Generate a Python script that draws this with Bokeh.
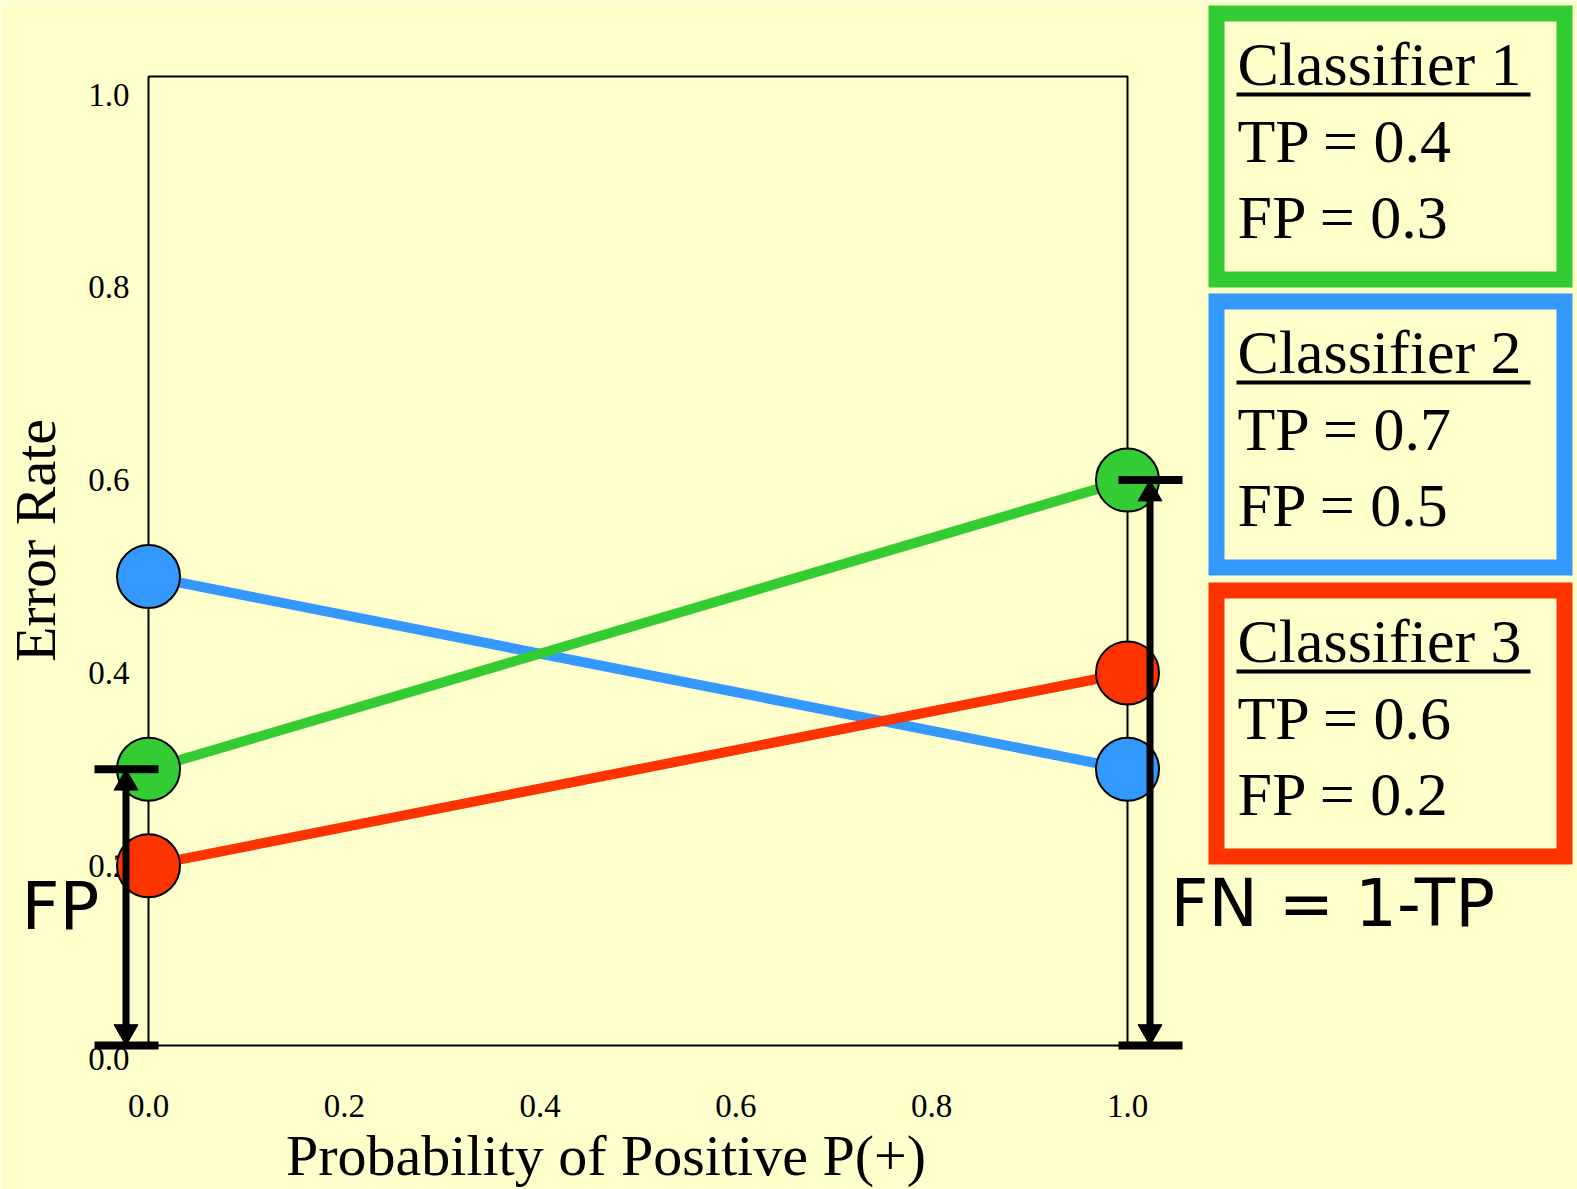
import math

from bokeh.plotting import figure
from bokeh.models import Range1d, FixedTicker, PrintfTickFormatter
from bokeh.core.properties import value
from bokeh.embed import file_html
from bokeh.resources import INLINE

# --- data -------------------------------------------------------------------
classifiers = ["Classifier 1", "Classifier 2", "Classifier 3"]
tp_rate = [0.4, 0.7, 0.6]
fp_rate = [0.3, 0.5, 0.2]
colors = ["#33CC33", "#3399FF", "#FF3300"]
p_positive = [0.0, 1.0]
x_ticks = [0.0, 0.2, 0.4, 0.6, 0.8, 1.0]
y_ticks = [0.0, 0.2, 0.4, 0.6, 0.8, 1.0]
x_title = "Probability of Positive P(+)"
y_title = "Error Rate"
fp_caption = "FP"
fn_caption = "FN = 1-TP"

# error rate at P(+)=0 is the FP rate, at P(+)=1 it is the FN rate = 1 - TP
err_at_0 = fp_rate
err_at_1 = [1 - t for t in tp_rate]

# --- layout (canvas pixels) ---------------------------------------------------
BG = "#FFFFCC"
W, H = 1577, 1189
LEFT, RIGHT, TOP, BOTTOM = 148, 1127, 76, 1045
X_SCALE = RIGHT - LEFT
Y_ZERO, Y_SCALE = 1058, 964
SERIF = "Liberation Serif"
SANS = "DejaVu Sans"
MID = 0.34  # distance from baseline to the middle of the em box, in em


def dx(px):
    return (px - LEFT) / X_SCALE


def dy(px):
    return (Y_ZERO - px) / Y_SCALE


y_floor = dy(BOTTOM)

p = figure(width=W, height=H,
           x_range=Range1d(0, 1), y_range=Range1d(y_floor, dy(TOP)),
           min_border_left=LEFT, min_border_right=W - RIGHT,
           min_border_top=TOP, min_border_bottom=H - BOTTOM,
           output_backend="svg", toolbar_location=None,
           background_fill_color=BG, border_fill_color=BG,
           outline_line_color="black", outline_line_width=2)
p.grid.visible = False

for ax in (p.xaxis[0], p.yaxis[0]):
    ax.axis_line_color = None
    ax.major_tick_line_color = None
    ax.minor_tick_line_color = None
    ax.major_tick_out = 0
    ax.major_label_text_font = SERIF
    ax.major_label_text_font_size = "33px"
    ax.major_label_text_color = "black"
    ax.formatter = PrintfTickFormatter(format="%.1f")

p.xaxis.ticker = FixedTicker(ticks=x_ticks)
p.yaxis.ticker = FixedTicker(ticks=y_ticks)
p.xaxis.major_label_standoff = 49
p.yaxis.major_label_standoff = 19


def put_text(x_px, base_px, text, font, size, align="left", level="overlay"):
    """Horizontal text whose baseline sits at canvas row base_px."""
    p.text(x=[dx(x_px)], y=[dy(base_px - MID * size)], text=[text],
           text_font=value(font), text_font_size=value(f"{size}px"),
           text_color="black", text_align=align, text_baseline="middle",
           level=level)


# the 0.0 tick sits just below the frame edge, so it is set by hand
p.text(x=[dx(LEFT - 19)], y=[y_ticks[0]], text=[f"{y_ticks[0]:.1f}"],
       text_font=value(SERIF), text_font_size=value("33px"), text_color="black",
       text_align="right", text_baseline="middle", level="guide")

# --- cost lines and end points ----------------------------------------------
for i in (1, 0, 2):
    p.line(p_positive, [err_at_0[i], err_at_1[i]], line_width=10,
           line_color=colors[i])

for i in range(3):
    p.scatter(p_positive, [err_at_0[i], err_at_1[i]], size=63,
              fill_color=colors[i], line_color="black", line_width=2,
              level="annotation")

# --- FP / FN measurement arrows ----------------------------------------------
HEAD = 24
HEAD_TIP = HEAD / 2 * math.sqrt(3) * 2 / 3  # centre-to-tip distance of a triangle marker


def measure(x_px, bar_x0_px, bar_x1_px, y_top):
    # end bars
    p.segment(x0=[dx(bar_x0_px)] * 2, y0=[y_top, y_floor],
              x1=[dx(bar_x1_px)] * 2, y1=[y_top, y_floor],
              line_width=8, line_color="black", level="overlay")
    # shaft, tucked inside both heads
    p.segment(x0=[dx(x_px)], y0=[y_floor + 10 / Y_SCALE],
              x1=[dx(x_px)], y1=[y_top - 10 / Y_SCALE],
              line_width=7, line_color="black", level="overlay")
    # heads
    p.scatter([dx(x_px)], [y_top - HEAD_TIP / Y_SCALE], marker="triangle",
              size=HEAD, fill_color="black", line_color="black", level="overlay")
    p.scatter([dx(x_px)], [y_floor + HEAD_TIP / Y_SCALE],
              marker="inverted_triangle", size=HEAD, fill_color="black",
              line_color="black", level="overlay")


measure(125.5, 94, 158, err_at_0[0])
measure(1149.5, 1118, 1182, err_at_1[0])

put_text(21, 928, fp_caption, SANS, 66)
put_text(1170, 925, fn_caption, SANS, 66)

# --- axis titles ---------------------------------------------------------------
put_text(605.5, 1175, x_title, SERIF, 58, align="center")
# rotated title: its baseline is the vertical line x = 55
p.text(x=[dx(55 - MID * 58)], y=[dy(540)], text=[y_title],
       text_font=value(SERIF), text_font_size=value("58px"), text_color="black",
       text_align="center", text_baseline="middle", angle=math.pi / 2,
       level="overlay")

# --- classifier boxes ----------------------------------------------------------
BOX_L, BOX_R, BOX_H, BORDER = 1208, 1572, 282, 16
box_tops = [5, 293, 582]
TEXT_X = 1237

for i, top in enumerate(box_tops):
    p.quad(left=[dx(BOX_L + BORDER / 2)], right=[dx(BOX_R - BORDER / 2)],
           top=[dy(top + BORDER / 2)], bottom=[dy(top + BOX_H - BORDER / 2)],
           fill_color=None, line_color=colors[i], line_width=BORDER,
           line_join="miter", level="annotation")
    lines = [classifiers[i], f"TP = {tp_rate[i]:.1f}", f"FP = {fp_rate[i]:.1f}"]
    for text, off in zip(lines, (80, 157, 233)):
        put_text(TEXT_X, top + off, text, SERIF, 62)
    p.segment(x0=[dx(TEXT_X - 1)], y0=[dy(top + 89)], x1=[dx(1530)],
              y1=[dy(top + 89)], line_width=4, line_color="black",
              level="overlay")

open("out.html", "w").write(file_html(p, INLINE))
